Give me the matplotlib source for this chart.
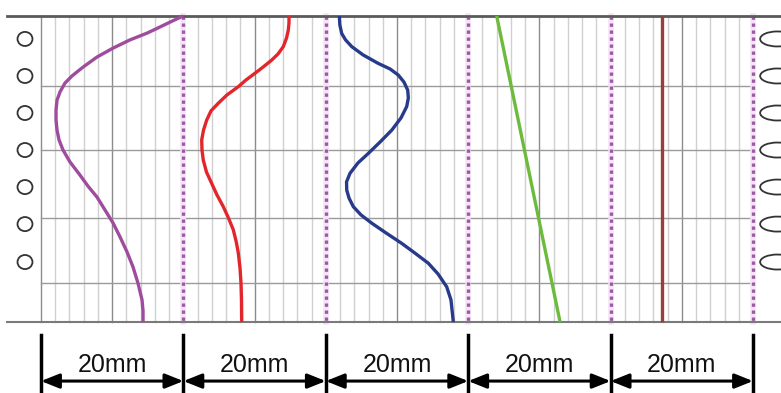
import matplotlib
matplotlib.use("Agg")
import matplotlib.pyplot as plt
from matplotlib.patches import Ellipse

# ---- data: x in mm, depth from top (0) to bottom (10) ----
sections = [0, 20, 40, 60, 80, 100]
section_labels = ['20mm', '20mm', '20mm', '20mm', '20mm']

purple_x = [19.94, 18.12, 16.43, 14.89, 12.50, 10.11, 7.87, 5.90, 4.35, 3.37, 2.67, 2.25, 2.11, 2.11, 2.25,
            2.53, 3.09, 4.07, 5.48, 6.60, 7.87, 8.99, 10.11, 11.10, 12.08, 12.92, 13.62, 14.19, 14.33, 14.33]
purple_d = [0.0, 0.20, 0.39, 0.56, 0.78, 1.05, 1.34, 1.67, 1.96, 2.19, 2.48, 2.75, 3.07, 3.40, 3.73,
            4.05, 4.38, 4.77, 5.20, 5.56, 5.92, 6.34, 6.76, 7.22, 7.71, 8.20, 8.73, 9.28, 9.64, 10.0]

red_x = [34.83, 34.83, 34.73, 34.48, 34.03, 33.29, 32.40, 31.18, 30.06, 28.79, 27.71, 26.12, 24.90, 23.88,
         23.27, 22.82, 22.57, 22.61, 22.79, 23.24, 23.97, 24.72, 25.60, 26.33, 27.01, 27.43, 27.71, 27.95,
         28.09, 28.16, 28.19]
red_d = [0.0, 0.23, 0.46, 0.72, 1.00, 1.24, 1.44, 1.67, 1.87, 2.09, 2.31, 2.58, 2.85, 3.10,
         3.40, 3.73, 4.05, 4.38, 4.71, 5.10, 5.47, 5.85, 6.23, 6.60, 6.99, 7.39, 7.75, 8.24,
         8.74, 9.28, 10.0]

blue_x = [41.90, 41.97, 42.23, 42.77, 43.64, 45.22, 47.37, 49.02, 50.18, 50.98, 51.50, 51.59, 51.36,
          50.56, 49.26, 47.61, 45.97, 44.52, 43.40, 42.91, 42.94, 43.26, 43.86, 44.94, 46.45, 48.46,
          50.66, 52.53, 54.40, 55.76, 56.98, 57.58, 57.91]
blue_d = [0.0, 0.29, 0.57, 0.78, 1.00, 1.27, 1.55, 1.73, 1.93, 2.16, 2.42, 2.68, 2.96,
          3.33, 3.73, 4.12, 4.49, 4.80, 5.14, 5.42, 5.69, 5.95, 6.23, 6.50, 6.77, 7.09,
          7.43, 7.75, 8.08, 8.43, 8.85, 9.28, 10.0]

green_x = [64.0, 72.9]
green_d = [0.0, 10.0]

brown_x = [87.2, 87.2]
brown_d = [0.0, 10.0]

hgrid_d = [2.29, 4.38, 6.60, 8.73]
hole_d = [0.75, 1.96, 3.17, 4.38, 5.59, 6.80, 8.04]

# ---- figure ----
fig = plt.figure(figsize=(7.81, 3.93), dpi=100)
ax = fig.add_axes([0, 0, 1, 1])
ax.set_xlim(-5.76, 103.93)
ax.set_ylim(12.32, -0.523)
ax.axis('off')

# grid
for x in range(0, 101, 2):
    if x in sections[1:]:
        continue
    col = '#8c8c8c' if x % 10 == 0 else '#d0d0d0'
    ax.plot([x, x], [0, 10], color=col, lw=1.0, zorder=1)
for d in hgrid_d:
    ax.plot([0, 100], [d, d], color='#9a9a9a', lw=1.0, zorder=1)

# dashed section separators
for x in sections[1:]:
    ax.plot([x, x], [0, 10], color='#f6e4f6', lw=4.0, zorder=2)
    ax.plot([x, x], [0, 10], color='#9a5aa6', lw=2.4, ls=(0, (1.0, 1.1)), zorder=3)

# top / bottom borders
ax.plot([-4.8, 103.93], [0, 0], color='#5a5a5a', lw=2.0, zorder=4)
ax.plot([-4.8, 103.93], [10, 10], color='#7a7a7a', lw=1.5, zorder=4)

# curves
style = dict(lw=2.4, zorder=5, solid_capstyle='butt', solid_joinstyle='round')
ax.plot(purple_x, purple_d, color='#a04c9e', **style)
ax.plot(red_x, red_d, color='#e2262c', **style)
ax.plot(blue_x, blue_d, color='#283a8a', **style)
ax.plot(green_x, green_d, color='#6cbb3c', **style)
ax.plot(brown_x, brown_d, color='#9b3d3d', **style)

# holes on both edges
for d in hole_d:
    ax.add_patch(Ellipse((-2.25, d), 2.1, 0.46, fill=False, ec='#333333', lw=1.3))
    ax.add_patch(Ellipse((103.4, d), 4.8, 0.49, fill=False, ec='#333333', lw=1.3))

# dimension lines
for x in sections:
    ax.plot([x, x], [10.42, 12.4], color='black', lw=2.5, zorder=6)
for i in range(len(section_labels)):
    x0, x1 = sections[i], sections[i + 1]
    ax.annotate('', xy=(x1, 11.93), xytext=(x0, 11.93),
                arrowprops=dict(arrowstyle='<|-|>,head_length=0.55,head_width=0.22',
                                mutation_scale=20, color='black', lw=2.2,
                                shrinkA=0, shrinkB=0))
    ax.text((x0 + x1) / 2, 11.40, section_labels[i], ha='center', va='center',
            fontsize=18, family='Liberation Sans', color='#111111')

fig.savefig('out.png', dpi=100)
